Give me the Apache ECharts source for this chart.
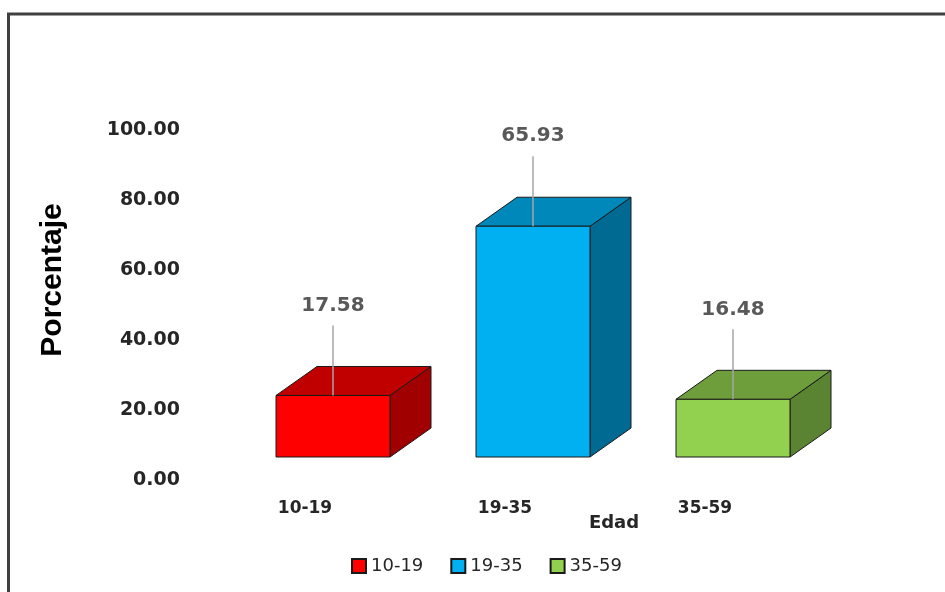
<!DOCTYPE html>
<html>
<head>
<meta charset="utf-8">
<style>
  html, body { margin: 0; padding: 0; background: #ffffff; }
  #chart { width: 945px; height: 592px; }
</style>
<script src="https://cdn.jsdelivr.net/npm/echarts@6/dist/echarts.min.js"></script>
</head>
<body>
<div id="chart"></div>
<script>
// Age groups and their share (%)
const categories = ['10-19', '19-35', '35-59'];
const percentages = [17.58, 65.93, 16.48];
const yTicks = [0, 20, 40, 60, 80, 100];

// Face colours of each box: front, top, side
const frontColors = ['#ff0000', '#00b0f0', '#92d050'];
const topColors = ['#c00000', '#0088bb', '#6e9e3c'];
const sideColors = ['#a00000', '#006a93', '#5a8332'];

// 3D box geometry (pixels)
const BOX_SHIFT_X = 28;   // boxes sit a little right of their category label
const BOX_LIFT = 23;      // floor of the boxes above the axis baseline
const DEPTH_X = 41;
const DEPTH_Y = -29;
const BOX_RATIO = 0.57;

function renderBox(colorIdx) {
  return function (params, api) {
    const idx = api.value(0);
    const v = api.value(1);
    const base = api.coord([idx, 0]);
    const peak = api.coord([idx, v]);
    const band = api.size([1, 0])[0];
    const w = band * BOX_RATIO;
    const cx = base[0] + BOX_SHIFT_X;
    const x0 = cx - w / 2, x1 = cx + w / 2;
    const y0 = base[1] - BOX_LIFT;
    const y1 = peak[1] - BOX_LIFT;
    const edge = { stroke: '#1a1a1a', lineWidth: 1 };
    return {
      type: 'group',
      children: [
        {
          type: 'polygon',
          shape: { points: [[x1, y1], [x1 + DEPTH_X, y1 + DEPTH_Y], [x1 + DEPTH_X, y0 + DEPTH_Y], [x1, y0]] },
          style: Object.assign({ fill: sideColors[colorIdx] }, edge)
        },
        {
          type: 'polygon',
          shape: { points: [[x0, y1], [x0 + DEPTH_X, y1 + DEPTH_Y], [x1 + DEPTH_X, y1 + DEPTH_Y], [x1, y1]] },
          style: Object.assign({ fill: topColors[colorIdx] }, edge)
        },
        {
          type: 'rect',
          shape: { x: x0, y: y1, width: w, height: y0 - y1 },
          style: Object.assign({ fill: frontColors[colorIdx] }, edge)
        },
        {
          type: 'line',
          shape: { x1: cx, y1: y1, x2: cx, y2: y1 - 70 },
          style: { stroke: '#a6a6a6', lineWidth: 1.5 }
        },
        {
          type: 'text',
          style: {
            x: cx, y: y1 - 90,
            text: v.toFixed(2),
            align: 'center', verticalAlign: 'middle',
            fill: '#595959',
            font: 'bold 20px "DejaVu Sans"'
          }
        }
      ]
    };
  };
}

const series = categories.map(function (name, i) {
  return {
    type: 'custom',
    name: name,
    data: [[i, percentages[i]]],
    encode: { x: 0, y: 1 },
    itemStyle: { color: frontColors[i], borderColor: '#1a1a1a', borderWidth: 1 },
    renderItem: renderBox(i),
    z: 3
  };
});

const chart = echarts.init(document.getElementById('chart'), null, { renderer: 'canvas' });
chart.setOption({
  animation: false,
  backgroundColor: '#ffffff',
  graphic: [{
    type: 'rect',
    shape: { x: 8.5, y: 14, width: 1000, height: 1000 },
    style: { fill: 'none', stroke: '#404040', lineWidth: 3 },
    z: 0
  }],
  grid: { left: 205, right: 140, top: 130, bottom: 112 },
  legend: {
    left: 346, top: 552,
    icon: 'rect',
    itemWidth: 14, itemHeight: 14, itemGap: 27,
    data: categories,
    textStyle: { fontFamily: 'DejaVu Sans', fontSize: 18, color: '#262626' }
  },
  xAxis: {
    type: 'category',
    data: categories,
    name: 'Edad',
    nameLocation: 'middle',
    nameGap: 34,
    nameMoveOverlap: false,
    nameTextStyle: {
      fontFamily: 'DejaVu Sans', fontWeight: 'bold', fontSize: 18, color: '#262626',
      padding: [0, 0, 0, 218]
    },
    axisLine: { show: false },
    axisTick: { show: false },
    axisLabel: {
      margin: 20,
      fontFamily: 'DejaVu Sans', fontWeight: 'bold', fontSize: 17, color: '#262626'
    }
  },
  yAxis: {
    type: 'value',
    min: yTicks[0],
    max: yTicks[yTicks.length - 1],
    interval: yTicks[1] - yTicks[0],
    name: 'Porcentaje',
    nameLocation: 'middle',
    nameRotate: 90,
    nameGap: 137,
    nameTextStyle: {
      fontFamily: 'Liberation Sans', fontWeight: 'bold', fontSize: 30, color: '#000000',
      padding: [0, 0, 0, 50]
    },
    splitLine: { show: false },
    axisLine: { show: false },
    axisTick: { show: false },
    axisLabel: {
      margin: 25,
      formatter: function (v) { return v.toFixed(2); },
      fontFamily: 'DejaVu Sans', fontWeight: 'bold', fontSize: 19, color: '#262626'
    }
  },
  series: series
});
</script>
</body>
</html>
